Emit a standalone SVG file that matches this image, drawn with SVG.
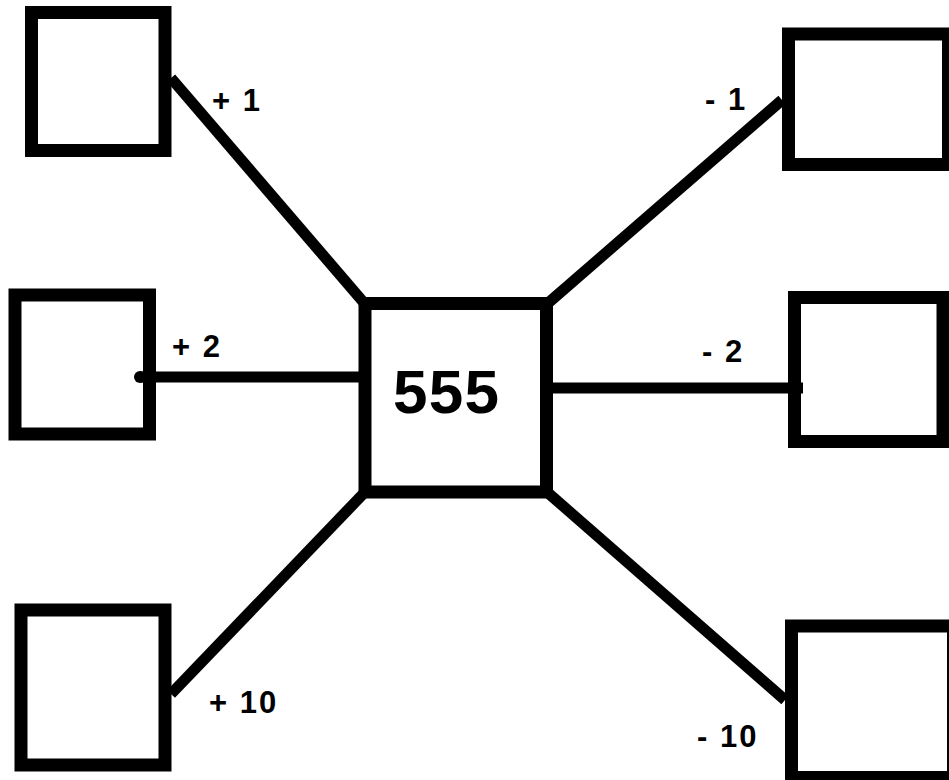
<svg xmlns="http://www.w3.org/2000/svg" width="949" height="780" viewBox="0 0 949 780">
<style>
.box{fill:#fff;stroke:#000;stroke-width:13}
.conn line{stroke:#000;stroke-width:11;stroke-linecap:butt}
.lbl{font-family:"Liberation Sans",Arial,sans-serif;font-weight:bold;font-size:31px;letter-spacing:2px;fill:#000}
.main{font-family:"Liberation Sans",Arial,sans-serif;font-weight:bold;font-size:62px;fill:#000}
</style>
<rect width="949" height="780" fill="#fff"/>
<g id="center"><rect class="box" x="365" y="303.5" width="181.5" height="188.5"/><text class="main" x="393" y="413" textLength="106">555</text></g>
<g id="n-tl"><rect class="box" x="31.5" y="12.5" width="133.5" height="138"/></g>
<g id="n-ml"><rect class="box" x="15" y="295" width="134.5" height="139"/></g>
<g id="n-bl"><rect class="box" x="21" y="610" width="144" height="155"/></g>
<g id="n-tr"><rect class="box" x="788.5" y="34" width="160" height="130.5"/></g>
<g id="n-mr"><rect class="box" x="794.5" y="297.5" width="148.5" height="144"/></g>
<g id="n-br"><rect class="box" x="791.5" y="626" width="162" height="151.5"/></g>
<g id="connectors" class="conn">
<line x1="171" y1="78" x2="365" y2="304"/>
<line x1="782" y1="100" x2="547" y2="304"/>
<line x1="140" y1="377" x2="359" y2="377"/>
<line x1="553" y1="388" x2="803" y2="388"/>
<line x1="365" y1="492" x2="171" y2="694"/>
<line x1="547" y1="492" x2="785" y2="700"/>
<circle cx="140" cy="377" r="6" fill="#000"/>
</g>
<g id="labels">
<text class="lbl" x="212" y="111">+ 1</text>
<text class="lbl" x="705" y="110">- 1</text>
<text class="lbl" x="172" y="357">+ 2</text>
<text class="lbl" x="702" y="362">- 2</text>
<text class="lbl" x="209" y="713">+ 10</text>
<text class="lbl" x="697" y="747">- 10</text>
</g>
</svg>
